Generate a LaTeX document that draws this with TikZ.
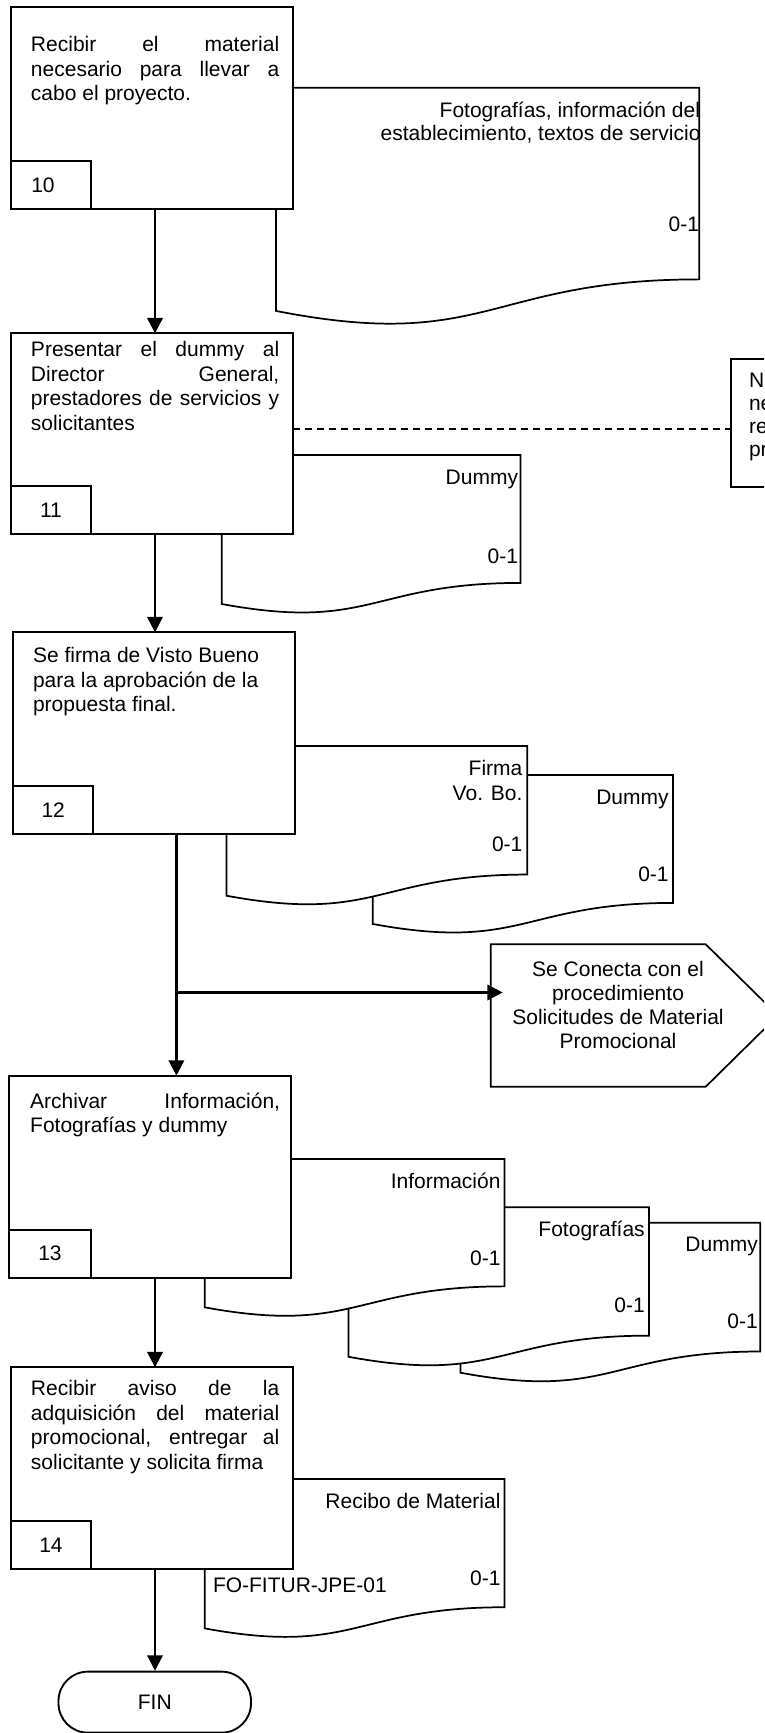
\documentclass[tikz,border=0pt]{standalone}
\usepackage{fontspec}
\setmainfont{Liberation Sans}
\usetikzlibrary{arrows.meta,calc}
\tikzset{
  boxst/.style={draw, line width=1.4pt, fill=white, rectangle, inner sep=0pt, outer sep=0pt},
  docst/.style={draw, line width=1.3pt, fill=white},
  arr/.style={line width=1.8pt, -{Triangle[length=11.5pt,width=11.5pt]}},
  plainline/.style={line width=1.8pt},
  txt/.style={inner sep=0pt, outer sep=0pt},
  dashline/.style={line width=1.2pt, dash pattern=on 4.9pt off 4.1pt},
}
\newcommand{\jl}[1]{\makebox[186.2pt][s]{#1}}
\newcommand{\mydoc}[4]{%
  \draw[docst] (#1,#2) -- ({#1+#3},#2) -- ({#1+#3},{#2+0.802*#4})
    .. controls ({#1+0.5*#3},{#2+0.802*#4}) and ({#1+0.5*#3},{#2+1.1075*#4}) .. (#1,{#2+0.934*#4}) -- cycle;}
\begin{document}
\begin{tikzpicture}[x=0.75pt,y=-0.75pt,font=\fontsize{15.75}{18.375}\selectfont]
\useasboundingbox (0,0) rectangle (764,1733);
\clip (0,0) rectangle (764,1733);
\fill[white] (0,0) rectangle (764,1733);
\coordinate (ax) at (155,0);

% ---- step 10
\mydoc{276}{87.7}{423.3}{239}
\node[txt,anchor=base east] (d1a) at (700,117.3) {Fotografías, información del};
\node[txt,anchor=base east] (d1b) at (700.5,140.7) {establecimiento, textos de servicio};
\node[txt,anchor=base east] (d1c) at (699,231.7) {0-1};
\node[boxst,anchor=north west,minimum width={282.3*0.75pt},minimum height={202.3*0.75pt}] (b10) at (11,6.7) {};
\node[boxst,anchor=south west,minimum width={80*0.75pt},minimum height={48*0.75pt}] (n10) at (b10.south west) {};
\node[txt] (l10) at (43,185) {10};
\node[txt,anchor=base west] (t10) at (31,51.7) {\parbox[t]{186.2pt}{\jl{Recibir el material}\\\jl{necesario para llevar a}\\cabo el proyecto.}};

% ---- step 11
\mydoc{221.7}{455}{298.8}{159.5}
\node[txt,anchor=base east] (d2a) at (518,484) {Dummy};
\node[txt,anchor=base east] (d2b) at (518,563.3) {0-1};
\node[boxst,anchor=north west,minimum width={282.3*0.75pt},minimum height={201*0.75pt}] (b11) at (11,333.3) {};
\node[boxst,anchor=south west,minimum width={80*0.75pt},minimum height={48*0.75pt}] (n11) at (b11.south west) {};
\node[txt] (l11) at (n11.center) {11};
\node[txt,anchor=base west] (t11) at (31,356.7) {\parbox[t]{186.2pt}{\jl{Presentar el dummy al}\\\jl{Director General,}\\\jl{prestadores de servicios y}\\solicitantes}};

% note box (cut at the edge)
\node[boxst,anchor=north west,minimum width={200*0.75pt},minimum height={127.7*0.75pt}] (note) at (730.7,359) {};
\node[txt,anchor=base west] (nt) at (749,387.5) {\parbox[t]{40pt}{\fontsize{15.75}{17.25}\selectfont N\\ne\\re\\pr}};
\coordinate (dl) at (0,428.7);
\draw[dashline] (b11.east |- dl) -- (note.west |- dl);

% ---- step 12
\mydoc{372.8}{775}{300.2}{159.5}
\node[txt,anchor=base east] (g1) at (668.6,804) {Dummy};
\node[txt,anchor=base east] (g2) at (668.6,881.7) {0-1};
\mydoc{226.6}{746}{300.7}{160.3}
\node[txt,anchor=base east] (f1) at (522.4,775) {Firma};
\node[txt,anchor=base east] (f2) at (522.4,800) {Vo. Bo.};
\node[txt,anchor=base east] (f3) at (522.4,851.7) {0-1};
\node[boxst,anchor=north west,minimum width={282.1*0.75pt},minimum height={201.7*0.75pt}] (b12) at (13.2,632.3) {};
\node[boxst,anchor=south west,minimum width={80*0.75pt},minimum height={48*0.75pt}] (n12) at (b12.south west) {};
\node[txt] (l12) at (n12.center) {12};
\node[txt,anchor=base west] (t12) at (33,662.7) {\parbox[t]{200pt}{Se firma de Visto Bueno\\para la aprobación de la\\propuesta final.}};

% connector shape
\node[txt,anchor=north west,minimum width={215*0.75pt},minimum height={142.4*0.75pt}] (con) at (490.7,944.3) {};
\draw[docst] (con.north west) -- (con.north east) -- (778,1015.5) -- (con.south east) -- (con.south west) -- cycle;
\node[txt,anchor=base] (ct) at (618,976) {\parbox[t]{200pt}{\centering\fontsize{15.75}{18}\selectfont Se Conecta con el\\procedimiento\\Solicitudes de Material\\Promocional}};

% ---- step 13
\mydoc{460.5}{1222.7}{299.7}{160.6}
\node[txt,anchor=base east] (k1) at (757.8,1251.7) {Dummy};
\node[txt,anchor=base east] (k2) at (757.8,1328.3) {0-1};
\mydoc{348.4}{1207.3}{300.7}{160}
\node[txt,anchor=base east] (h1) at (644.7,1236) {Fotografías};
\node[txt,anchor=base east] (h2) at (644.7,1312.7) {0-1};
\mydoc{204.7}{1159}{299.7}{158.8}
\node[txt,anchor=base east] (i1) at (500.5,1188.3) {Información};
\node[txt,anchor=base east] (i2) at (500.5,1265) {0-1};
\node[boxst,anchor=north west,minimum width={282.4*0.75pt},minimum height={202*0.75pt}] (b13) at (9,1075.7) {};
\node[boxst,anchor=south west,minimum width={82*0.75pt},minimum height={48*0.75pt}] (n13) at (b13.south west) {};
\node[txt] (l13) at (n13.center) {13};
\node[txt,anchor=base west] (t13) at (30.2,1108.3) {\parbox[t]{187.4pt}{\makebox[187.4pt][s]{Archivar Información,}\\Fotografías y dummy}};

% ---- step 14
\mydoc{204.7}{1479}{299.7}{159.9}
\node[txt,anchor=base east] (r1) at (500.5,1508.3) {Recibo de Material};
\node[txt,anchor=base east] (r2) at (500.5,1585) {0-1};
\node[txt,anchor=base west] (r3) at (213,1592.7) {FO-FITUR-JPE-01};
\node[boxst,anchor=north west,minimum width={281.7*0.75pt},minimum height={201.7*0.75pt}] (b14) at (11,1367.3) {};
\node[boxst,anchor=south west,minimum width={80*0.75pt},minimum height={48*0.75pt}] (n14) at (b14.south west) {};
\node[txt] (l14) at (n14.center) {14};
\node[txt,anchor=base west] (t14) at (31,1395.7) {\parbox[t]{186.2pt}{\jl{Recibir aviso de la}\\\jl{adquisición del material}\\\jl{promocional, entregar al}\\solicitante y solicita firma}};

% FIN
\node[draw,line width=1.4pt,fill=white,rounded corners=22pt,inner sep=0pt,minimum width={192.5*0.75pt},minimum height={61*0.75pt},anchor=north] (fin) at (154.75,1670.7) {FIN};

% ---- connectors
\draw[arr] (b10.south -| ax) -- (b11.north -| ax);
\draw[arr] (b11.south -| ax) -- (b12.north -| ax);
\coordinate (j) at (176.4,992.5);
\draw[arr] (b12.south -| j) -- (b13.north -| j);
\draw[arr] (j) -- ($(con.west |- j)+(12,0)$);
\draw[arr] (b13.south -| ax) -- (b14.north -| ax);
\draw[arr] (b14.south -| ax) -- (fin.north -| ax);
\end{tikzpicture}
\end{document}
